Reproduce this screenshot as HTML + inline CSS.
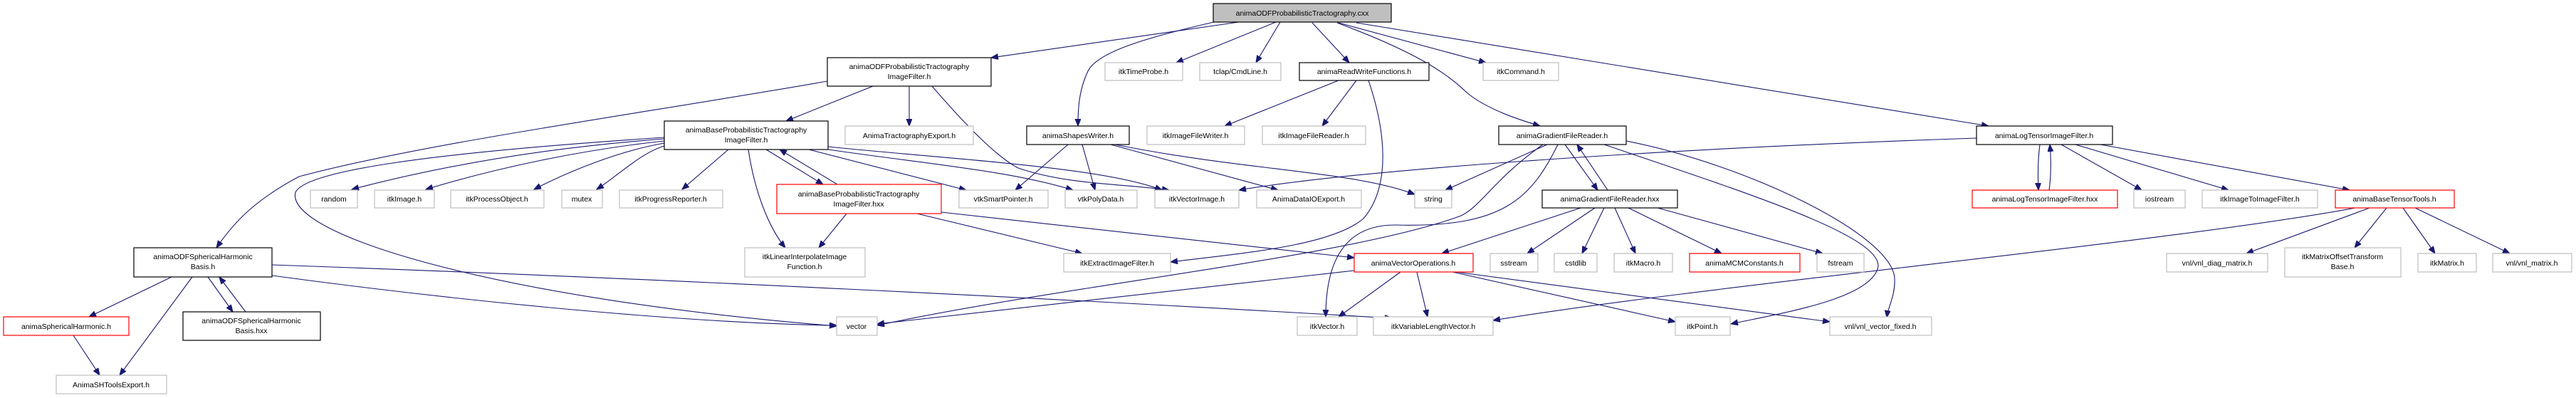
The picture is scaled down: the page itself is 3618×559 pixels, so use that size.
<!DOCTYPE html>
<html><head><meta charset="utf-8"><style>
html,body{margin:0;padding:0;background:#fff}
svg{display:block}
text{font-family:"Liberation Sans",sans-serif;font-size:10.5px;fill:#000;text-anchor:middle}
.e{fill:none;stroke:#191970;stroke-width:1.1;marker-end:url(#a)}
.g{fill:#fff;stroke:#bfbfbf;stroke-width:1.2}
.b{fill:#fff;stroke:#000;stroke-width:1.2}
.r{fill:#fff;stroke:#ff0000;stroke-width:1.2}
.root{fill:#bfbfbf;stroke:#000;stroke-width:1.2}
</style></head><body>
<svg width="3618" height="559" viewBox="0 0 3618 559" xmlns="http://www.w3.org/2000/svg">
<defs><marker id="a" markerUnits="userSpaceOnUse" markerWidth="11" markerHeight="9" refX="10" refY="4" orient="auto"><path d="M0,0 L10,4 L0,8 z" fill="#191970" stroke="#191970"/></marker></defs>

<!-- edges -->
<path class="e" d="M1740,31 L1392,81"/>
<path class="e" d="M1705,31 C1600,55 1540,75 1528,100 C1516,125 1514,150 1514,177"/>
<path class="e" d="M1792,31 L1652,88"/>
<path class="e" d="M1798,31 L1764,88"/>
<path class="e" d="M1843,32 L1895,88"/>
<path class="e" d="M1880,32 L2087,88"/>
<path class="e" d="M1878,32 C1980,70 2030,100 2060,130 C2090,155 2140,170 2163,177"/>
<path class="e" d="M1905,32 L2793,177"/>

<path class="e" d="M1226,121 L1104,170"/>
<path class="e" d="M1277,121 L1277,177"/>
<path class="e" d="M1309,121 C1360,180 1400,220 1430,236 C1500,260 1580,258 1642,267"/>
<path class="e" d="M1162,114 C900,160 600,200 420,248 C360,280 330,310 304,348"/>

<path class="e" d="M933,195 C800,205 650,225 494,266"/>
<path class="e" d="M933,198 C820,210 700,235 598,266"/>
<path class="e" d="M933,201 C870,212 800,240 750,266"/>
<path class="e" d="M933,205 C900,215 870,245 838,266"/>
<path class="e" d="M1023,210 L958,266"/>
<path class="e" d="M933,193 C600,215 430,240 415,270 C400,330 700,420 1175,458"/>
<path class="e" d="M1051,210 C1060,270 1080,320 1103,348"/>
<path class="e" d="M1076,210 L1156,259"/>
<path class="e" d="M1176,259 L1095,210"/>
<path class="e" d="M1136,210 L1357,267"/>
<path class="e" d="M1163,210 C1300,230 1420,240 1507,267"/>
<path class="e" d="M1163,206 C1350,225 1550,235 1632,267"/>

<path class="e" d="M1500,203 L1426,267"/>
<path class="e" d="M1520,203 L1538,267"/>
<path class="e" d="M1560,203 L1795,267"/>
<path class="e" d="M1566,203 C1750,240 1900,240 1987,273"/>

<path class="e" d="M1189,300 L1150,348"/>
<path class="e" d="M1288,300 L1520,356"/>
<path class="e" d="M1322,298 L1902,362"/>

<path class="e" d="M1880,113 L1720,177"/>
<path class="e" d="M1905,113 L1857,177"/>
<path class="e" d="M1922,113 C1945,180 1955,260 1915,307 C1870,345 1750,355 1644,368"/>

<path class="e" d="M2173,203 L2030,267"/>
<path class="e" d="M2167,203 C2100,250 2080,290 2052,303 C1900,360 1500,400 1232,457"/>
<path class="e" d="M2188,203 C2150,280 2110,320 1961,316 C1880,315 1862,380 1862,445"/>
<path class="e" d="M2198,203 L2244,267"/>
<path class="e" d="M2258,267 L2215,203"/>
<path class="e" d="M2253,203 C2450,270 2640,330 2638,374 C2630,420 2500,440 2431,455"/>
<path class="e" d="M2284,198 C2450,230 2660,330 2661,392 C2662,415 2652,430 2650,446"/>

<path class="e" d="M2220,292 L2025,356"/>
<path class="e" d="M2240,292 L2145,356"/>
<path class="e" d="M2253,292 L2222,356"/>
<path class="e" d="M2268,292 L2297,356"/>
<path class="e" d="M2287,292 L2418,356"/>
<path class="e" d="M2328,292 L2560,356"/>

<path class="e" d="M1902,380 L1232,455"/>
<path class="e" d="M1967,382 L1880,445"/>
<path class="e" d="M1990,382 L2005,445"/>
<path class="e" d="M2040,382 L2353,452"/>
<path class="e" d="M2045,382 L2570,452"/>

<path class="e" d="M241,389 L125,445"/>
<path class="e" d="M270,389 L168,527"/>
<path class="e" d="M292,389 L327,438"/>
<path class="e" d="M345,438 L308,389"/>
<path class="e" d="M382,372 C900,390 1500,420 1955,447"/>
<path class="e" d="M382,387 C700,430 1000,455 1175,457"/>
<path class="e" d="M103,471 L140,527"/>

<path class="e" d="M2776,194 C2300,210 1900,240 1740,267"/>
<path class="e" d="M2865,203 C2862,225 2862,245 2863,267"/>
<path class="e" d="M2878,267 C2881,245 2881,225 2879,203"/>
<path class="e" d="M2895,203 L3008,267"/>
<path class="e" d="M2915,203 L3130,267"/>
<path class="e" d="M2950,203 L3300,267"/>

<path class="e" d="M3308,292 C3050,340 2400,400 2097,450"/>
<path class="e" d="M3328,292 L3155,356"/>
<path class="e" d="M3352,292 L3307,348"/>
<path class="e" d="M3375,292 L3420,356"/>
<path class="e" d="M3392,292 L3525,356"/>

<!-- nodes -->
<rect class="root" x="1704" y="5" width="250" height="26"/><text x="1829" y="22">animaODFProbabilisticTractography.cxx</text>

<rect class="b" x="1162" y="81" width="230" height="40"/><text x="1277" y="97">animaODFProbabilisticTractography</text><text x="1277" y="111">ImageFilter.h</text>
<rect class="g" x="1552" y="88" width="109" height="25"/><text x="1606" y="104">itkTimeProbe.h</text>
<rect class="g" x="1685" y="88" width="114" height="25"/><text x="1742" y="104">tclap/CmdLine.h</text>
<rect class="b" x="1825" y="88" width="182" height="25"/><text x="1916" y="104">animaReadWriteFunctions.h</text>
<rect class="g" x="2083" y="88" width="106" height="25"/><text x="2136" y="104">itkCommand.h</text>

<rect class="b" x="933" y="170" width="230" height="40"/><text x="1048" y="186">animaBaseProbabilisticTractography</text><text x="1048" y="200">ImageFilter.h</text>
<rect class="g" x="1187" y="177" width="180" height="26"/><text x="1277" y="194">AnimaTractographyExport.h</text>
<rect class="b" x="1442" y="177" width="144" height="26"/><text x="1514" y="194">animaShapesWriter.h</text>
<rect class="g" x="1611" y="177" width="137" height="26"/><text x="1679" y="194">itkImageFileWriter.h</text>
<rect class="g" x="1773" y="177" width="145" height="26"/><text x="1845" y="194">itkImageFileReader.h</text>
<rect class="b" x="2105" y="177" width="179" height="26"/><text x="2194" y="194">animaGradientFileReader.h</text>
<rect class="b" x="2776" y="177" width="191" height="26"/><text x="2871" y="194">animaLogTensorImageFilter.h</text>

<rect class="g" x="436" y="267" width="66" height="25"/><text x="469" y="283">random</text>
<rect class="g" x="526" y="267" width="84" height="25"/><text x="568" y="283">itkImage.h</text>
<rect class="g" x="633" y="267" width="131" height="25"/><text x="698" y="283">itkProcessObject.h</text>
<rect class="g" x="789" y="267" width="57" height="25"/><text x="817" y="283">mutex</text>
<rect class="g" x="870" y="267" width="145" height="25"/><text x="942" y="283">itkProgressReporter.h</text>
<rect class="r" x="1091" y="259" width="231" height="41"/><text x="1206" y="276">animaBaseProbabilisticTractography</text><text x="1206" y="290">ImageFilter.hxx</text>
<rect class="g" x="1347" y="267" width="125" height="25"/><text x="1409" y="283">vtkSmartPointer.h</text>
<rect class="g" x="1496" y="267" width="101" height="25"/><text x="1546" y="283">vtkPolyData.h</text>
<rect class="g" x="1622" y="267" width="118" height="25"/><text x="1681" y="283">itkVectorImage.h</text>
<rect class="g" x="1765" y="267" width="147" height="25"/><text x="1838" y="283">AnimaDataIOExport.h</text>
<rect class="g" x="1987" y="267" width="52" height="25"/><text x="2013" y="283">string</text>
<rect class="b" x="2166" y="267" width="190" height="25"/><text x="2261" y="283">animaGradientFileReader.hxx</text>
<rect class="r" x="2770" y="267" width="204" height="25"/><text x="2872" y="283">animaLogTensorImageFilter.hxx</text>
<rect class="g" x="2997" y="267" width="72" height="25"/><text x="3033" y="283">iostream</text>
<rect class="g" x="3093" y="267" width="162" height="25"/><text x="3174" y="283">itkImageToImageFilter.h</text>
<rect class="r" x="3280" y="267" width="167" height="25"/><text x="3363" y="283">animaBaseTensorTools.h</text>

<rect class="b" x="188" y="348" width="194" height="41"/><text x="285" y="364">animaODFSphericalHarmonic</text><text x="285" y="378">Basis.h</text>
<rect class="g" x="1046" y="348" width="169" height="41"/><text x="1130" y="364">itkLinearInterpolateImage</text><text x="1130" y="378">Function.h</text>
<rect class="g" x="1494" y="356" width="150" height="26"/><text x="1569" y="373">itkExtractImageFilter.h</text>
<rect class="r" x="1902" y="356" width="167" height="26"/><text x="1985" y="373">animaVectorOperations.h</text>
<rect class="g" x="2093" y="356" width="67" height="26"/><text x="2126" y="373">sstream</text>
<rect class="g" x="2183" y="356" width="60" height="26"/><text x="2213" y="373">cstdlib</text>
<rect class="g" x="2267" y="356" width="82" height="26"/><text x="2308" y="373">itkMacro.h</text>
<rect class="r" x="2373" y="356" width="155" height="26"/><text x="2450" y="373">animaMCMConstants.h</text>
<rect class="g" x="2552" y="356" width="66" height="26"/><text x="2585" y="373">fstream</text>
<rect class="g" x="3043" y="356" width="142" height="26"/><text x="3114" y="373">vnl/vnl_diag_matrix.h</text>
<rect class="g" x="3209" y="348" width="163" height="41"/><text x="3290" y="364">itkMatrixOffsetTransform</text><text x="3290" y="378">Base.h</text>
<rect class="g" x="3396" y="356" width="82" height="26"/><text x="3437" y="373">itkMatrix.h</text>
<rect class="g" x="3501" y="356" width="111" height="26"/><text x="3556" y="373">vnl/vnl_matrix.h</text>

<rect class="r" x="5" y="445" width="176" height="26"/><text x="93" y="462">animaSphericalHarmonic.h</text>
<rect class="b" x="257" y="438" width="193" height="40"/><text x="353" y="454">animaODFSphericalHarmonic</text><text x="353" y="468">Basis.hxx</text>
<rect class="g" x="1175" y="445" width="57" height="26"/><text x="1203" y="462">vector</text>
<rect class="g" x="1822" y="445" width="84" height="26"/><text x="1864" y="462">itkVector.h</text>
<rect class="g" x="1929" y="445" width="168" height="26"/><text x="2013" y="462">itkVariableLengthVector.h</text>
<rect class="g" x="2353" y="445" width="77" height="26"/><text x="2391" y="462">itkPoint.h</text>
<rect class="g" x="2570" y="445" width="143" height="26"/><text x="2641" y="462">vnl/vnl_vector_fixed.h</text>

<rect class="g" x="79" y="527" width="155" height="26"/><text x="156" y="544">AnimaSHToolsExport.h</text>
</svg>
</body></html>
